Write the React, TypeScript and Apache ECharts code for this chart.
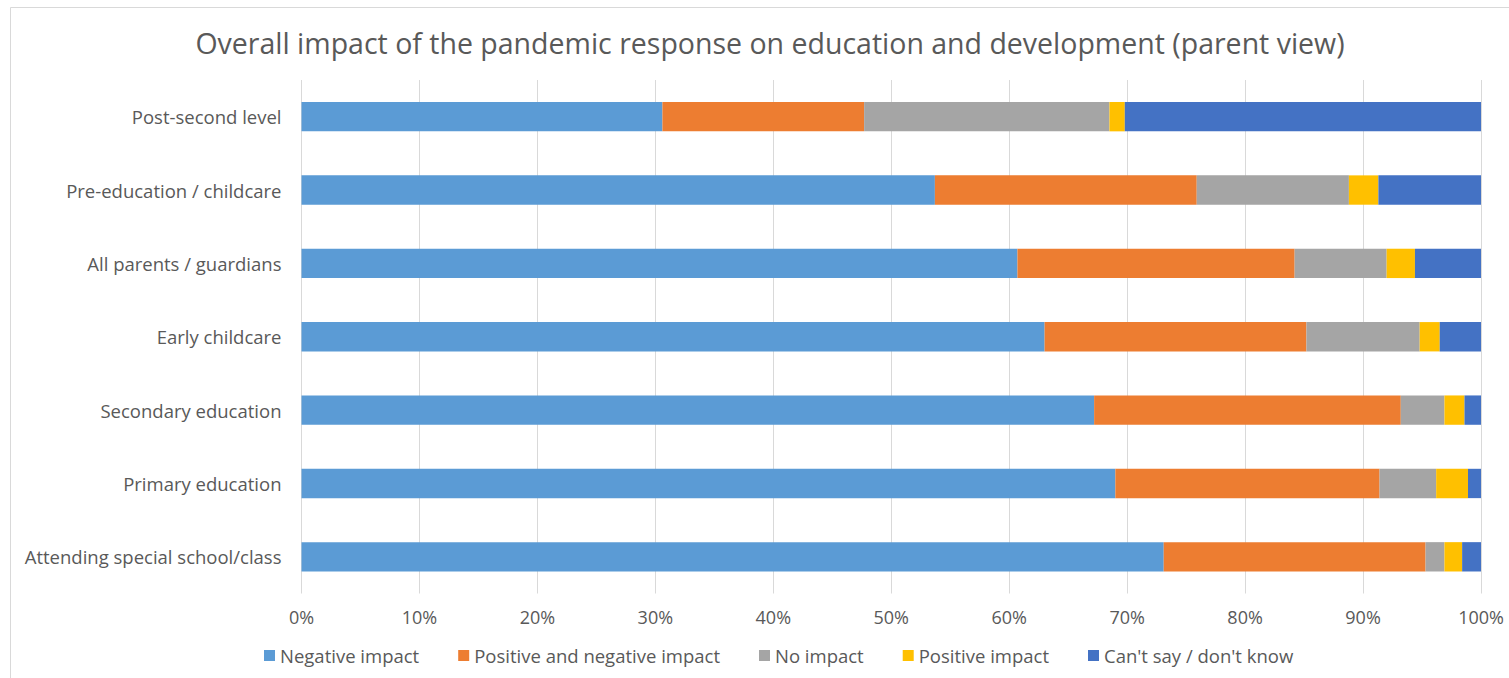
import React, { useEffect, useRef } from "react";
import * as echarts from "echarts";

const categories = [
  "Attending special school/class",
  "Primary education",
  "Secondary education",
  "Early childcare",
  "All parents / guardians",
  "Pre-education / childcare",
  "Post-second level",
];
const negativeImpact = [73.1, 69.0, 67.2, 63.0, 60.7, 53.7, 30.6];
const positiveAndNegative = [22.2, 22.4, 26.0, 22.2, 23.5, 22.2, 17.1];
const noImpact = [1.6, 4.8, 3.7, 9.6, 7.8, 12.9, 20.8];
const positiveImpact = [1.5, 2.7, 1.7, 1.7, 2.4, 2.5, 1.3];
const cantSay = [1.6, 1.1, 1.4, 3.5, 5.6, 8.7, 30.2];

const seriesNames = [
  "Negative impact",
  "Positive and negative impact",
  "No impact",
  "Positive impact",
  "Can't say / don't know",
];
const seriesData = [negativeImpact, positiveAndNegative, noImpact, positiveImpact, cantSay];
const colors = ["#5B9BD5", "#ED7D31", "#A5A5A5", "#FFC000", "#4472C4"];

const FONT = "Open Sans";
const TEXT = "#595959";

export default function App() {
  const ref = useRef<HTMLDivElement>(null);
  useEffect(() => {
    document.body.style.margin = "0";
    const chart = echarts.init(ref.current!, null, { renderer: "svg" });
    chart.setOption({
      animation: false,
      backgroundColor: "#ffffff",
      textStyle: { fontFamily: FONT },
      graphic: [
        {
          type: "polyline",
          shape: { points: [[10.5, 690], [10.5, 7.5], [1520, 7.5]] },
          style: { stroke: "#D9D9D9", fill: "none", lineWidth: 1 },
          silent: true,
        },
        {
          type: "text",
          x: 770,
          y: 43,
          style: {
            text: "Overall impact of the pandemic response on education and development (parent view)",
            fontFamily: FONT,
            fontSize: 28.5,
            fill: TEXT,
            align: "center",
            verticalAlign: "middle",
          },
        },
      ],
      legend: {
        left: 259,
        top: 641,
        itemWidth: 11,
        itemHeight: 11,
        icon: "rect",
        itemGap: 39,
        textStyle: { color: TEXT, fontSize: 18.5, fontFamily: FONT },
        data: seriesNames,
      },
      grid: { left: 301.5, right: 28, top: 80, bottom: 84.5, containLabel: false },
      xAxis: {
        type: "value",
        min: 0,
        max: 100,
        interval: 10,
        axisLabel: { formatter: "{value}%", color: TEXT, fontSize: 18, margin: 14, fontFamily: FONT },
        axisLine: { show: false },
        axisTick: { show: false },
        splitLine: { show: true, lineStyle: { color: "#D9D9D9", width: 1 } },
      },
      yAxis: {
        type: "category",
        data: categories,
        axisLabel: { color: TEXT, fontSize: 18.5, margin: 20, fontFamily: FONT },
        axisLine: { show: false },
        axisTick: { show: false },
      },
      series: seriesNames.map((name, i) => ({
        name,
        type: "bar",
        stack: "total",
        data: seriesData[i],
        barCategoryGap: "60%",
        itemStyle: { color: colors[i] },
      })),
    });
    return () => chart.dispose();
  }, []);
  return <div ref={ref} style={{ width: 1509, height: 678, position: "absolute", left: 0, top: 0 }} />;
}
